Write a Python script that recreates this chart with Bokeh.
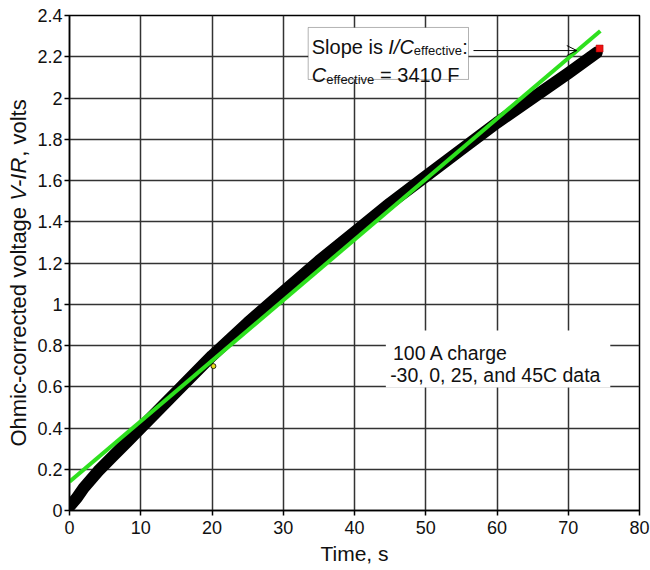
import math

from bokeh.embed import file_html
from bokeh.resources import INLINE
from bokeh.layouts import row
from bokeh.plotting import figure
from bokeh.models import (Range1d, FixedTicker, Label, BoxAnnotation, Arrow,
                          OpenHead)

# Ohmic-corrected voltage during a 100 A charge (all four temperatures overlap)
time_s = [0, 1, 2, 4, 6, 8, 10, 15, 20, 25, 30, 35, 40, 45, 50, 55, 60, 65, 70, 74]
voltage_v = [0.02, 0.06, 0.11, 0.19, 0.26, 0.33, 0.40, 0.575, 0.75, 0.91,
             1.06, 1.21, 1.35, 1.49, 1.62, 1.75, 1.88, 2.00, 2.12, 2.22]

# last point of the record and an isolated point near 20 s
end_point = [74.4, 2.24]
odd_point = [20.2, 0.70]

# linear fit: slope is I / C_effective
current_a = 100.0
c_effective_f = 3410.0
fit_intercept_v = 0.14
fit_time_s = [0.0, 74.5]
fit_voltage_v = [fit_intercept_v + current_a / c_effective_f * t for t in fit_time_s]

x_ticks = [0, 10, 20, 30, 40, 50, 60, 70, 80]
x_tick_labels = ["0", "10", "20", "30", "40", "50", "60", "70", "80"]
y_ticks = [0, 0.2, 0.4, 0.6, 0.8, 1.0, 1.2, 1.4, 1.6, 1.8, 2.0, 2.2, 2.4]
y_tick_labels = ["0", "0.2", "0.4", "0.6", "0.8", "1", "1.2", "1.4", "1.6",
                 "1.8", "2", "2.2", "2.4"]

FONT = "Liberation Sans"
STRIP_W = 34   # width of the strip holding the y-axis title

p = figure(width=650 - STRIP_W, height=570, output_backend="svg",
           toolbar_location=None,
           x_range=Range1d(0, 80), y_range=Range1d(0, 2.4),
           min_border_left=68 - STRIP_W, min_border_right=11,
           min_border_top=15, min_border_bottom=60)
p.background_fill_color = "white"
p.border_fill_color = "white"
p.outline_line_color = "black"
p.outline_line_width = 1.5

# axes
p.xaxis.ticker = FixedTicker(ticks=x_ticks)
p.xaxis.major_label_overrides = {t: s for t, s in zip(x_ticks, x_tick_labels)}
p.yaxis.ticker = FixedTicker(ticks=y_ticks)
p.yaxis.major_label_overrides = {t: s for t, s in zip(y_ticks, y_tick_labels)}
for ax in (p.xaxis, p.yaxis):
    ax.axis_line_color = "black"
    ax.axis_line_width = 1.5
    ax.major_tick_line_color = "black"
    ax.major_tick_line_width = 1.5
    ax.major_tick_in = 0
    ax.major_tick_out = 5
    ax.minor_tick_line_color = None
    ax.major_label_text_font = FONT
    ax.major_label_text_font_size = "18px"
    ax.major_label_text_color = "#111111"
p.xaxis.major_label_standoff = 5
p.yaxis.major_label_standoff = 2
p.xaxis.axis_label = "Time, s"
p.xaxis.axis_label_text_font = FONT
p.xaxis.axis_label_text_font_size = "21px"
p.xaxis.axis_label_text_font_style = "normal"
p.xaxis.axis_label_text_color = "#111111"
p.xaxis.axis_label_standoff = 5

p.grid.grid_line_color = "#333333"
p.grid.grid_line_width = 1.5
p.xgrid.ticker = FixedTicker(ticks=x_ticks)
p.ygrid.ticker = FixedTicker(ticks=y_ticks)

# measured data band
p.line(time_s, voltage_v, line_color="black", line_width=12,
       line_cap="round", line_join="round")
p.scatter([odd_point[0]], [odd_point[1]], marker="circle", size=5,
          fill_color="#e8e020", line_color="black", line_width=0.8)
p.scatter([end_point[0]], [end_point[1]], marker="square", size=7,
          fill_color="#ee1111", line_color="#aa0000", line_width=0.5)

# linear fit
p.line(fit_time_s, fit_voltage_v, line_color="#2ee01e", line_width=4)

# slope annotation box
p.add_layout(BoxAnnotation(left=33.5, right=56.0, bottom=2.09, top=2.342,
                           fill_color="white", fill_alpha=1.0,
                           line_color="black", line_width=1))


def put(fig, x, y, text, size, style="normal", angle=0.0,
        baseline="alphabetic"):
    fig.add_layout(Label(x=x, y=y, text=text, text_font=FONT,
                         text_font_size=f"{size}px", text_font_style=style,
                         text_align="left", text_baseline=baseline,
                         angle=angle, text_color="#111111"))


px = 571 / 80  # screen pixels per second along x
# line 1: Slope is I/C_effective:
x0 = 34.0
put(p, x0, 2.246, "Slope is", 20)
x1 = x0 + 3.835 * 20 / px
put(p, x1, 2.246, "I/C", 20, "italic")
x2 = x1 + 1.278 * 20 / px
put(p, x2, 2.228, "effective", 13)
x3 = x2 + 3.724 * 13 / px
put(p, x3, 2.246, ":", 20)
# line 2: C_effective = 3410 F
put(p, x0, 2.11, "C", 20, "italic")
x4 = x0 + 0.722 * 20 / px
put(p, x4, 2.092, "effective", 13)
x5 = x4 + (3.724 * 13 + 0.278 * 20) / px
put(p, x5, 2.11, f"= {int(c_effective_f)} F", 20)

p.add_layout(Arrow(end=OpenHead(size=10, line_width=1, line_color="black"),
                   x_start=56.7, y_start=2.23, x_end=71.2, y_end=2.23,
                   line_color="black", line_width=1))

# test-condition note
p.add_layout(BoxAnnotation(left=44.4, right=75.9, bottom=0.596, top=0.873,
                           fill_color="white", fill_alpha=1.0,
                           line_color=None))
put(p, 45.4, 0.766, "100 A charge", 19.5)
put(p, 45.0, 0.659, "-30, 0, 25, and 45C data", 19.5)

# narrow strip on the left carrying the y-axis title (V-IR in italics)
strip = figure(width=STRIP_W, height=570, output_backend="svg",
               toolbar_location=None, x_axis_location=None,
               y_axis_location=None, x_range=Range1d(0, STRIP_W),
               y_range=p.y_range, min_border_left=0, min_border_right=0,
               min_border_top=15, min_border_bottom=60)
strip.outline_line_color = None
strip.grid.visible = False
strip.background_fill_color = "white"
strip.border_fill_color = "white"

y_title_parts = [("Ohmic-corrected voltage", "normal", 11.17),
                 ("V-IR", "italic", 2.0),
                 (", volts", "normal", 2.612)]
y_title_px = 22
y_px_per_unit = 495 / 2.4
pos = 0.31
for text, style, em in y_title_parts:
    put(strip, 18, pos, text, y_title_px, style, angle=math.pi / 2,
        baseline="middle")
    pos += em * y_title_px / y_px_per_unit

layout = row(strip, p, spacing=0)
open("out.html", "w").write(file_html(layout, INLINE))
